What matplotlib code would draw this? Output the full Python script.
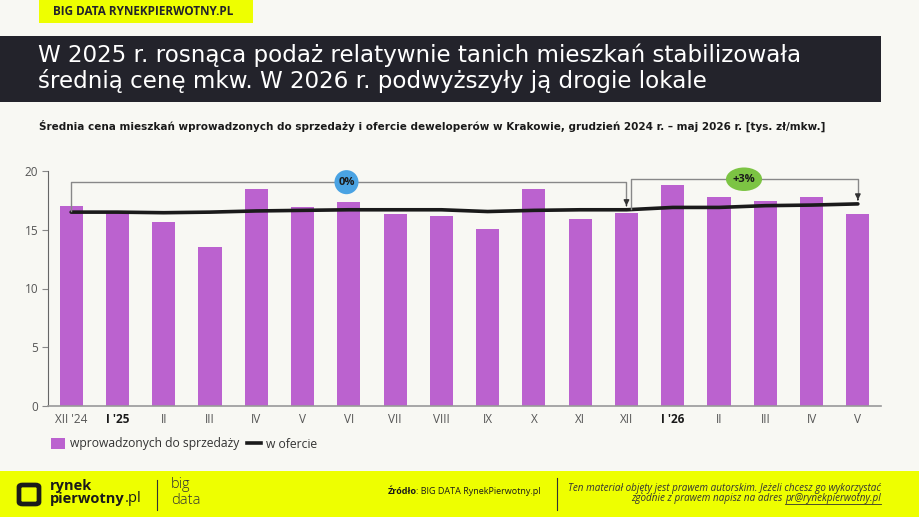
import numpy as np
import matplotlib
matplotlib.use("Agg")
from matplotlib import pyplot as plt
from matplotlib.patches import Rectangle, Ellipse, FancyBboxPatch
from matplotlib.lines import Line2D

months = ["XII '24", "I '25", "II", "III", "IV", "V", "VI", "VII", "VIII",
          "IX", "X", "XI", "XII", "I '26", "II", "III", "IV", "V"]
bold_ticks = ["I '25", "I '26"]
introduced = [17.0, 16.6, 15.7, 13.5, 18.5, 16.9, 17.4, 16.3, 16.2,
              15.1, 18.5, 15.9, 16.4, 18.8, 17.8, 17.45, 17.8, 16.3]
on_offer = [16.5, 16.5, 16.45, 16.5, 16.6, 16.65, 16.7, 16.7, 16.7,
            16.55, 16.65, 16.7, 16.7, 16.9, 16.9, 17.05, 17.1, 17.2]
change_labels = ["0%", "+3%"]

BG = "#f8f8f3"
PURPLE = "#bb62cf"
YELLOW = "#eeff00"
DARK = "#23232b"

plt.rcParams['font.family'] = ['Open Sans', 'DejaVu Sans']

fig = plt.figure(figsize=(9.2, 5.17), dpi=100)
fig.patch.set_facecolor(BG)

W, H = 920.0, 517.0
def fx(px):
    return px / W
def fy(py):
    return 1 - py / H

# header boxes
fig.patches.append(Rectangle((fx(39), fy(23)), fx(214), 23 / H, transform=fig.transFigure,
                             facecolor=YELLOW, edgecolor='none', zorder=0))
fig.text(fx(53), fy(11.5), "BIG DATA RYNEKPIERWOTNY.PL", fontsize=8.5, fontweight='bold',
         color=DARK, va='center', ha='left')
fig.patches.append(Rectangle((0, fy(101.5)), fx(881), 65 / H, transform=fig.transFigure,
                             facecolor=DARK, edgecolor='none', zorder=0))
fig.text(fx(38), fy(55), "W 2025 r. rosnąca podaż relatywnie tanich mieszkań stabilizowała",
         fontsize=16.6, color='white', va='center', ha='left', family='DejaVu Sans')
fig.text(fx(38), fy(81), "średnią cenę mkw. W 2026 r. podwyższyły ją drogie lokale",
         fontsize=16.6, color='white', va='center', ha='left', family='DejaVu Sans')
fig.text(fx(39), fy(126), "Średnia cena mieszkań wprowadzonych do sprzedaży i ofercie deweloperów "
         "w Krakowie, grudzień 2024 r. – maj 2026 r. [tys. zł/mkw.]",
         fontsize=7.45, fontweight='bold', color='#1a1a1a', va='center', ha='left',
         family='DejaVu Sans')

# main chart
ax = fig.add_axes([fx(48), fy(406), fx(881) - fx(48), (406 - 171) / H])
ax.set_facecolor('none')
x = np.arange(len(months))
ax.bar(x, introduced, width=0.5, color=PURPLE, zorder=2)
ax.plot(x, on_offer, color='#1a1a1a', linewidth=2.6, zorder=3, solid_capstyle='round')

ax.set_xlim(-0.5, len(months) - 0.5)
ax.set_ylim(0, 20)
ax.set_yticks([0, 5, 10, 15, 20])
ax.set_xticks(x)
ax.set_xticklabels(months)
for lab in ax.get_xticklabels():
    if lab.get_text() in bold_ticks:
        lab.set_fontweight('bold')
        lab.set_color('#1a1a1a')
    else:
        lab.set_color('#555555')
ax.tick_params(axis='x', length=0, labelsize=8.5, pad=5)
ax.tick_params(axis='y', length=4, labelsize=8.5, colors='#555555', pad=3)
ax.tick_params(axis='y', color='#888888')
for s in ['top', 'right']:
    ax.spines[s].set_visible(False)
ax.spines['left'].set_color('#666666')
ax.spines['bottom'].set_color('#999999')
ax.spines['bottom'].set_linewidth(1.2)

# brackets with arrows
def bracket(i0, i1, ytop, x0_off):
    ax.plot([i0 + x0_off, i0 + x0_off, i1, i1], [on_offer[i0] + 0.1, ytop, ytop, on_offer[i1] + 0.55],
            color='#888888', linewidth=1.0, zorder=4, clip_on=False)
    ax.annotate("", xy=(i1, on_offer[i1] + 0.1), xytext=(i1, on_offer[i1] + 0.6),
                arrowprops=dict(arrowstyle='-|>', color='#333333', lw=1.0,
                                mutation_scale=8), zorder=5)

bracket(0, 12, 19.05, 0.0)
bracket(12, 17, 19.3, 0.1)

# labels on brackets
ax.add_patch(Ellipse((5.95, 19.05), 0.52, 2.05, facecolor='#4aa3e3', edgecolor='none', zorder=6,
                     clip_on=False))
ax.text(5.95, 19.05, change_labels[0], ha='center', va='center', fontsize=8, fontweight='bold',
        color='#1a1a1a', zorder=7)
ax.add_patch(Ellipse((14.54, 19.3), 0.78, 2.0, facecolor='#7cc443', edgecolor='none', zorder=6,
                     clip_on=False))
ax.text(14.54, 19.3, change_labels[1], ha='center', va='center', fontsize=8, fontweight='bold',
        color='#1a1a1a', zorder=7)

# legend
handles = [Rectangle((0, 0), 1, 1, facecolor=PURPLE, edgecolor='none'),
           Line2D([0], [0], color='#1a1a1a', linewidth=2.6)]
fig.legend(handles, ["wprowadzonych do sprzedaży", "w ofercie"], loc='center left',
           bbox_to_anchor=(fx(40), fy(444)), ncol=2, frameon=False, fontsize=8.7,
           handlelength=1.2, handleheight=1.0, handletextpad=0.4, columnspacing=0.6,
           labelcolor='#333333')

# footer
fig.patches.append(Rectangle((0, 0), 1, fy(471), transform=fig.transFigure,
                             facecolor=YELLOW, edgecolor='none', zorder=0))
fig.patches.append(FancyBboxPatch((fx(19), fy(504)), fx(20), 19 / H, transform=fig.transFigure,
                                  boxstyle='round,pad=0,rounding_size=0.004', facecolor='none',
                                  edgecolor='#1a1a1a', linewidth=3.4, zorder=1))
fig.text(fx(50), fy(486), "rynek", fontsize=10.5, fontweight='bold', color='#1a1a1a',
         va='center', ha='left')
pw = fig.text(fx(50), fy(499), "pierwotny", fontsize=10.5, fontweight='bold', color='#1a1a1a',
              va='center', ha='left')
fig.canvas.draw()
r = fig.canvas.get_renderer()
bb = pw.get_window_extent(renderer=r)
fig.text(bb.x1 / fig.bbox.width, fy(499), ".pl", fontsize=10.5, color='#1a1a1a',
         va='center', ha='left')
fig.lines.append(Line2D([fx(157), fx(157)], [fy(480), fy(510)], transform=fig.transFigure,
                        color='#333333', linewidth=0.8))
fig.text(fx(171), fy(484), "big", fontsize=10.5, color='#333333', va='center', ha='left',
         fontweight='light')
fig.text(fx(171), fy(500), "data", fontsize=10.5, color='#333333', va='center', ha='left',
         fontweight='light')
fig.text(fx(388), fy(492), "Źródło", fontsize=6.5, fontweight='bold', color='#1a1a1a',
         va='center', ha='left')
fig.text(fx(416), fy(492), ": BIG DATA RynekPierwotny.pl", fontsize=6.5, color='#1a1a1a',
         va='center', ha='left')
fig.lines.append(Line2D([fx(557), fx(557)], [fy(478), fy(510)], transform=fig.transFigure,
                        color='#333333', linewidth=0.8))
fig.text(fx(881), fy(489), "Ten materiał objęty jest prawem autorskim. Jeżeli chcesz go wykorzystać",
         fontsize=7.1, style='italic', color='#333333', va='center', ha='right')
fig.text(fx(881), fy(499), "zgodnie z prawem napisz na adres ",
         fontsize=7.1, style='italic', color='#333333', va='center', ha='right')
em = fig.text(fx(881), fy(499), "pr@rynekpierwotny.pl",
              fontsize=7.1, style='italic', color='#333333', va='center', ha='right')
fig.canvas.draw()
eb = em.get_window_extent(renderer=fig.canvas.get_renderer())
# shift the first part so the address sits after it
fig.texts[-2].set_x((eb.x0) / fig.bbox.width)
fig.lines.append(Line2D([eb.x0 / fig.bbox.width, eb.x1 / fig.bbox.width],
                        [fy(504), fy(504)], transform=fig.transFigure,
                        color='#333333', linewidth=0.6))

fig.savefig("out.png", dpi=100, facecolor=BG)
